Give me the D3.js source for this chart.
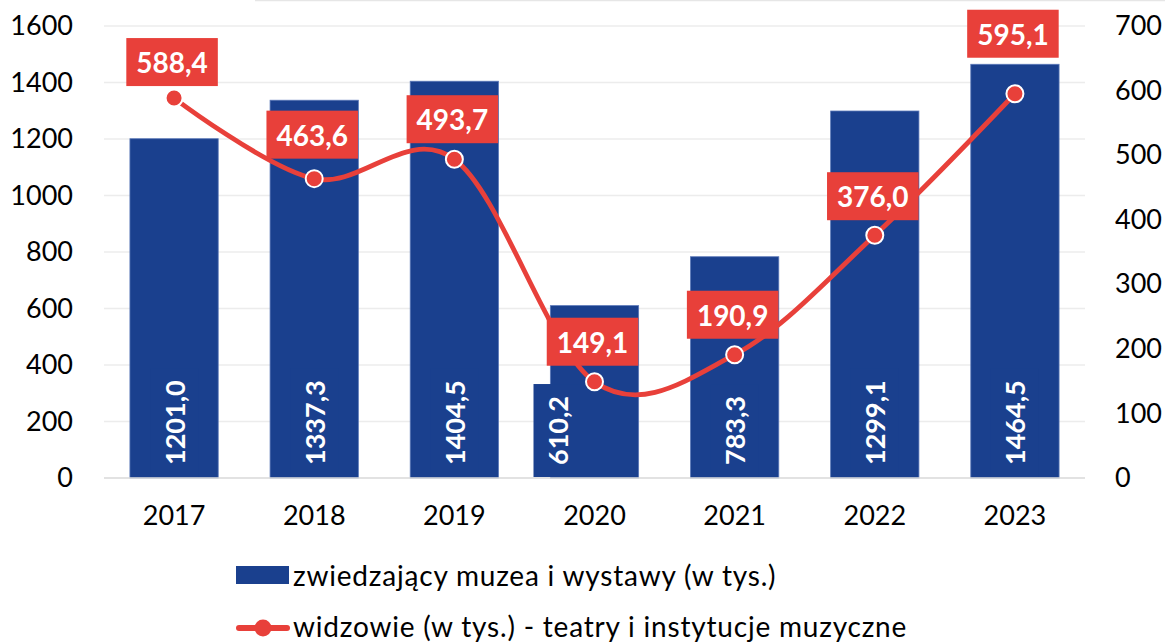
<!DOCTYPE html>
<html>
<head>
<meta charset="utf-8">
<script src="https://cdn.jsdelivr.net/npm/d3@7/dist/d3.min.js"></script>
<style>
  html, body { margin: 0; padding: 0; background: #fff; }
  svg { display: block; font-family: Lato, "Noto Sans", sans-serif; }
</style>
</head>
<body>
<svg id="chart" width="1165" height="642"></svg>
<script>
// Values (thousands of people)
const years = ["2017", "2018", "2019", "2020", "2021", "2022", "2023"];
const museumVisitors = [1201.0, 1337.3, 1404.5, 610.2, 783.3, 1299.1, 1464.5];
const theatreAudience = [588.4, 463.6, 493.7, 149.1, 190.9, 376.0, 595.1];
const leftTicks = [0, 200, 400, 600, 800, 1000, 1200, 1400, 1600];
const rightTicks = [0, 100, 200, 300, 400, 500, 600, 700];
const seriesNames = ["zwiedzający muzea i wystawy (w tys.)",
                     "widzowie (w tys.) - teatry i instytucje muzyczne"];

// Label placement (pixels above the point / sideways shift of bar labels)
const lineLabelLift = [36, 44, 40, 40, 40, 39, 60];
const barLabelShift = [0, 0, 0, -37, 0, 0, 0];

const BLUE = "#1a408e";
const RED = "#e8403a";

const svg = d3.select("#chart");
const m = { left: 104, right: 1085, top: 26, bottom: 478 };

const x = d3.scaleBand().domain(years).range([m.left, m.right]).paddingInner(0.37).paddingOuter(0.185);
const yL = d3.scaleLinear().domain([0, 1600]).range([m.bottom, m.top]);
const yR = d3.scaleLinear().domain([0, 700]).range([m.bottom, m.top]);

const fmt = v => d3.format(".1f")(v).replace(".", ",");

// faint frame line along the top edge
svg.append("line").attr("x1", 255).attr("x2", 1165).attr("y1", 0.5).attr("y2", 0.5)
  .attr("stroke", "#e6e6e6").attr("stroke-width", 1.5);

// gridlines
svg.append("g").selectAll("line").data(leftTicks.filter(d => d > 0)).join("line")
  .attr("x1", m.left).attr("x2", m.right)
  .attr("y1", d => yL(d)).attr("y2", d => yL(d))
  .attr("stroke", "#ececec").attr("stroke-width", 1.5);

// left axis
const axL = svg.append("g").attr("transform", `translate(${m.left},0)`)
  .call(d3.axisLeft(yL).tickValues(leftTicks).tickSize(0).tickPadding(31).tickFormat(d3.format("d")));
axL.select(".domain").remove();
axL.selectAll("text").attr("font-size", 27).attr("fill", "#000").attr("font-family", "Lato, sans-serif");

// right axis
const axR = svg.append("g").attr("transform", `translate(${m.right},0)`)
  .call(d3.axisRight(yR).tickValues(rightTicks).tickSize(0).tickPadding(30).tickFormat(d3.format("d")));
axR.select(".domain").remove();
axR.selectAll("text").attr("font-size", 27).attr("fill", "#000").attr("font-family", "Lato, sans-serif");

// bars
svg.append("g").selectAll("rect").data(museumVisitors).join("rect")
  .attr("x", (d, i) => x(years[i]))
  .attr("width", x.bandwidth())
  .attr("y", d => yL(d))
  .attr("height", d => yL(0) - yL(d))
  .attr("fill", BLUE)
  .attr("stroke", "#5b78b8").attr("stroke-width", 0.8);

// baseline
svg.append("line").attr("x1", m.left).attr("x2", m.right)
  .attr("y1", m.bottom).attr("y2", m.bottom)
  .attr("stroke", "#d9d9d9").attr("stroke-width", 1.5);

// x axis labels
const axX = svg.append("g").attr("transform", `translate(0,${m.bottom})`)
  .call(d3.axisBottom(x).tickSize(0).tickPadding(28));
axX.select(".domain").remove();
axX.selectAll("text").attr("font-size", 27).attr("fill", "#000").attr("font-family", "Lato, sans-serif");

// bar value labels, rotated, inside the base
const barLab = svg.append("g").selectAll("g").data(museumVisitors).join("g")
  .attr("transform", (d, i) => `translate(${x(years[i]) + x.bandwidth() / 2 + barLabelShift[i]},${m.bottom - 1}) rotate(-90)`);
barLab.append("rect").attr("class", "bg").attr("fill", BLUE);
barLab.append("text")
  .text(d => fmt(d))
  .attr("font-size", 27).attr("font-weight", 700).attr("fill", "#fff")
  .attr("dominant-baseline", "central")
  .attr("x", 12).attr("y", 0);
barLab.each(function () {
  const g = d3.select(this);
  const w = g.select("text").node().getComputedTextLength();
  g.select("rect").attr("x", 0).attr("y", -24).attr("width", w + 24).attr("height", 48);
});

// line series
const pts = theatreAudience.map((v, i) => [x(years[i]) + x.bandwidth() / 2, yR(v)]);
svg.append("path")
  .attr("d", d3.line().curve(d3.curveCardinal.tension(0))(pts))
  .attr("fill", "none").attr("stroke", RED).attr("stroke-width", 4.8)
  .attr("stroke-linecap", "round");

svg.append("g").selectAll("circle").data(pts).join("circle")
  .attr("cx", d => d[0]).attr("cy", d => d[1]).attr("r", 8.5)
  .attr("fill", RED).attr("stroke", "#fff").attr("stroke-width", 2);

// line value labels in red boxes
const lineLab = svg.append("g").selectAll("g").data(theatreAudience).join("g")
  .attr("transform", (d, i) => `translate(${pts[i][0] - 2},${pts[i][1] - lineLabelLift[i]})`);
lineLab.append("rect").attr("fill", RED);
lineLab.append("text")
  .text(d => fmt(d))
  .attr("text-anchor", "middle").attr("dominant-baseline", "central")
  .attr("font-size", 28).attr("font-weight", 700).attr("fill", "#fff");
lineLab.each(function () {
  const g = d3.select(this);
  const w = g.select("text").node().getComputedTextLength();
  g.select("rect").attr("x", -(w / 2 + 10)).attr("y", -24).attr("width", w + 20).attr("height", 48);
});

// legend
const lg = svg.append("g");
lg.append("rect").attr("x", 236).attr("y", 566).attr("width", 53).attr("height", 18).attr("fill", BLUE);
lg.append("text").attr("x", 293).attr("y", 575).attr("dominant-baseline", "central")
  .attr("font-size", 28).attr("letter-spacing", 0.8).attr("fill", "#000").text(seriesNames[0]);
lg.append("line").attr("x1", 239).attr("x2", 287).attr("y1", 628).attr("y2", 628)
  .attr("stroke", RED).attr("stroke-width", 6).attr("stroke-linecap", "round");
lg.append("circle").attr("cx", 263).attr("cy", 628).attr("r", 8.5).attr("fill", RED);
lg.append("text").attr("x", 293).attr("y", 626).attr("dominant-baseline", "central")
  .attr("font-size", 28).attr("letter-spacing", 0.8).attr("fill", "#000").text(seriesNames[1]);
</script>
</body>
</html>
